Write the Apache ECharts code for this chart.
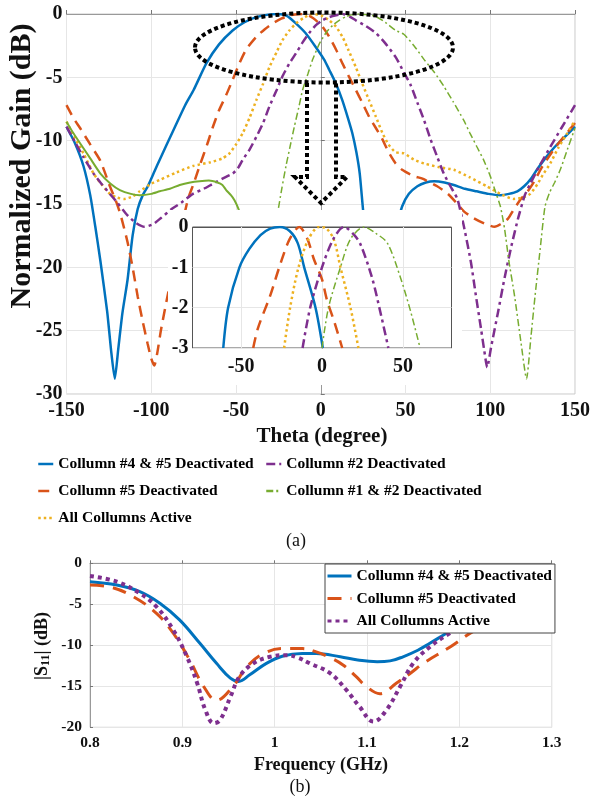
<!DOCTYPE html>
<html>
<head>
<meta charset="utf-8">
<script src="https://cdn.jsdelivr.net/npm/echarts@6/dist/echarts.min.js"></script>
<style>html,body{margin:0;padding:0;background:#fff}#c{width:593px;height:800px}</style>
</head>
<body>
<div id="c"></div>
<script>
// ---------- (a) radiation pattern, main plot: [theta (deg), normalized gain (dB)] ----------
const blueMain = [[-150,-8.9],[-145,-10.2],[-140,-12.0],[-136,-14.3],[-133,-16.8],[-130,-19.5],[-126,-23.5],[-123.5,-26.8],[-121.5,-28.8],[-119.5,-26.5],[-117,-23.6],[-114,-21],[-111,-17.5],[-108,-15.4],[-105,-14.3],[-102,-13.6],[-98,-12.4],[-95,-11.5],[-87,-9.2],[-80,-7.2],[-75,-6.0],[-67.5,-3.9],[-60,-2.4],[-52,-1.3],[-45,-0.65],[-38,-0.25],[-30,-0.03],[-25,0],[-20,-0.15],[-15,-0.7],[-9,-1.5],[-3,-2.6],[2,-3.6],[5,-4.4],[9,-5.5],[12.7,-6.8],[16,-8.2],[18.6,-9.4],[21,-10.9],[23,-12.6],[25,-15.5],[28,-19],[33,-23],[37,-24],[42,-19],[45,-16.8],[48,-15.2],[52,-14.2],[57,-13.6],[62,-13.3],[67,-13.2],[73,-13.3],[78.5,-13.5],[85,-13.8],[92,-14.0],[99,-14.2],[106,-14.3],[111,-14.2],[116,-14.0],[120,-13.6],[124,-13.0],[128,-12.2],[133,-11.3],[138,-10.5],[144,-9.7],[150,-8.9]];
const orangeMain = [[-150,-7.2],[-146,-8.2],[-142,-9.0],[-136,-10.3],[-130,-11.6],[-124.4,-13.6],[-121,-14.7],[-118,-15.9],[-114,-18],[-111,-20],[-108,-22.3],[-105,-24.3],[-102.2,-26],[-100,-27.2],[-98.2,-27.75],[-96.5,-26.8],[-94.2,-24.9],[-90,-22],[-86.2,-19.6],[-82,-16.8],[-78.3,-14.6],[-75,-13.4],[-71.5,-12.0],[-67,-10.3],[-63.6,-8.9],[-60,-7.6],[-55.8,-6.4],[-52,-5.2],[-48,-3.9],[-44,-2.8],[-38,-1.8],[-33,-1.2],[-28.4,-0.74],[-23,-0.35],[-18,-0.1],[-11,0],[-6,-0.2],[-2.8,-0.5],[1,-1.0],[5,-1.8],[9,-2.8],[12.8,-3.9],[16.5,-4.9],[20.7,-6.0],[24.5,-7.0],[28.5,-8.1],[32.5,-9.0],[36.4,-9.9],[40,-10.9],[44.2,-11.8],[48,-12.3],[55,-12.8],[60,-13.0],[68.7,-13.6],[75,-14.2],[80,-14.9],[84.6,-15.6],[90,-16.1],[96.6,-16.55],[102.5,-16.8],[106,-16.6],[110.5,-16.15],[114,-15.4],[118.4,-14.55],[121.6,-14.1],[126,-13.2],[130,-12.2],[133.4,-11.5],[138,-10.6],[144,-9.6],[150,-8.6]];
const yellowMain = [[-150,-8.5],[-145,-9.8],[-140,-11.0],[-134,-12.6],[-129,-13.5],[-124.4,-14.2],[-120,-14.5],[-116,-14.6],[-111,-14.4],[-106.8,-14.0],[-100,-13.4],[-95,-13.1],[-85,-12.5],[-75.4,-12.0],[-65,-11.7],[-58,-11.4],[-53.8,-11.0],[-50,-10.3],[-46,-9.4],[-42,-8.2],[-38,-6.8],[-34,-5.5],[-30.3,-4.2],[-26,-3.0],[-22.5,-2.05],[-18.5,-1.3],[-14.6,-0.74],[-10,-0.3],[-4.8,0],[0,-0.1],[5,-0.5],[9,-1.0],[12.8,-1.8],[16.5,-2.9],[20.7,-4.2],[24.5,-5.5],[28.5,-6.8],[32.5,-8.1],[36.4,-9.4],[40,-10.3],[44,-10.9],[49,-11.0],[55,-11.5],[61,-11.8],[70,-12.1],[78.5,-12.3],[88,-12.9],[98,-13.6],[106,-14.2],[113.8,-14.6],[119,-14.5],[123.6,-14.2],[128,-13.4],[131,-12.7],[135.4,-11.8],[140,-10.6],[145,-9.5],[150,-8.4]];
const purpleMain = [[-150,-8.9],[-145,-10.1],[-140,-11.3],[-134,-12.6],[-130,-13.3],[-124.4,-14.2],[-120,-14.9],[-114,-15.9],[-109,-16.5],[-104,-16.8],[-99,-16.6],[-94.2,-16.1],[-88,-15.4],[-82.3,-14.9],[-75.4,-14.2],[-69,-13.8],[-63.6,-13.4],[-58,-13.0],[-52,-12.6],[-49,-12.2],[-46,-11.5],[-42,-10.7],[-38,-9.7],[-34,-8.6],[-30.3,-7.3],[-26,-6.0],[-22.5,-4.9],[-18.5,-3.9],[-14.6,-3.1],[-10.5,-2.2],[-6.8,-1.5],[-3,-0.9],[1,-0.5],[5,-0.25],[9,-0.1],[13,0],[17,-0.2],[20.7,-0.5],[26,-0.9],[32.5,-1.5],[38,-2.3],[44.2,-3.4],[49,-4.6],[53,-5.6],[57,-7.0],[61,-8.4],[64.8,-9.9],[68.5,-11.2],[72.6,-12.6],[76.5,-13.6],[80.6,-14.6],[84.5,-16.8],[88.6,-19.6],[91.5,-22.2],[94.6,-24.9],[96.5,-26.6],[98.2,-27.9],[100.5,-26.3],[104.5,-23.6],[108.5,-20.8],[112.5,-18.3],[116.5,-16.1],[120.4,-14.3],[123.6,-13.4],[129,-12.0],[135.4,-10.5],[142,-9.0],[150,-7.2]];
const greenSideLobe = [[-150,-8.5],[-146,-9.4],[-142,-10.2],[-136,-11.4],[-130,-12.6],[-124,-13.4],[-118.5,-13.9],[-112,-14.2],[-106.8,-14.3],[-100,-14.2],[-95,-14.0],[-89,-13.8],[-83.2,-13.5],[-77,-13.3],[-71.5,-13.2],[-66,-13.15],[-61,-13.3],[-58,-13.5],[-55.8,-13.9],[-53,-14.3],[-50.9,-14.7],[-48.5,-15.4],[-46,-16.5],[-43,-18]];
const greenMain = [[-30,-20],[-27.5,-17.5],[-25.4,-15.7],[-23,-13.8],[-20.5,-12.0],[-18,-10.4],[-15.6,-8.9],[-13,-7.4],[-10.7,-6.0],[-7.5,-4.7],[-4.8,-3.6],[-1,-2.4],[3,-1.5],[7,-0.9],[10.9,-0.5],[15,-0.2],[19,-0.05],[22.6,0],[27,-0.05],[32.5,-0.2],[38,-0.65],[44.2,-1.3],[49,-1.6],[55,-2.5],[61,-3.6],[67,-4.6],[72.6,-5.7],[78,-6.9],[84.4,-8.4],[88,-9.4],[92.2,-10.5],[96,-11.5],[100,-12.8],[103,-14.0],[106,-15.2],[108.5,-17],[111,-19.5],[114.4,-22.3],[118,-25.8],[121.4,-28.8],[124,-25.5],[126.4,-22.3],[129.5,-18.5],[132.3,-15.2],[135,-14.1],[138,-13.3],[141.3,-12.3],[145.5,-10.7],[150,-9.0]];

// ---------- (a) inset (zoom of main lobes) ----------
const blueInset = [[-61,-3],[-58,-2],[-51,-1],[-45,-0.55],[-38,-0.2],[-32,-0.04],[-26,0],[-20,-0.1],[-15,-0.4],[-11,-1],[-4,-2],[0.5,-3]];
const orangeInset = [[-42.5,-3],[-39.5,-2.5],[-32,-1.7],[-26,-0.95],[-20,-0.3],[-14,0],[-9,-0.3],[-5,-0.8],[0,-1.3],[3,-1.8],[8,-2.4],[12.5,-3]];
const yellowInset = [[-23.4,-3],[-19.7,-2],[-14.5,-1],[-8.3,-0.3],[-2,0],[2,-0.02],[7.2,-0.3],[11.4,-1],[17.6,-2],[22.5,-3]];
const purpleInset = [[-12,-3],[-7.3,-2],[0,-1],[7,-0.3],[13.5,0],[20,-0.2],[24,-0.45],[31,-1.27],[36,-2.1],[41,-3]];
const greenInset = [[0,-3],[4,-2],[11.4,-1],[17.6,-0.3],[26,0],[33,-0.15],[40.4,-0.4],[48.6,-1.27],[54.8,-2.1],[60.6,-3]];
const insetXTicks = [-50, 0, 50];

// ---------- (b) |S11| vs frequency: [GHz, dB] ----------
const blueS11 = [[0.8,-2.24],[0.829,-2.65],[0.854,-3.46],[0.876,-4.9],[0.897,-6.9],[0.919,-9.76],[0.937,-12.2],[0.952,-14.0],[0.961,-14.4],[0.973,-13.6],[0.991,-12.2],[1.009,-11.3],[1.03,-11.0],[1.045,-11.0],[1.071,-11.4],[1.09,-11.8],[1.111,-12.0],[1.125,-11.9],[1.139,-11.4],[1.155,-10.6],[1.168,-9.76],[1.185,-8.6],[1.2,-7.6],[1.215,-6.8]];
const orangeS11 = [[0.8,-2.65],[0.822,-2.9],[0.847,-4.07],[0.872,-6.1],[0.89,-8.5],[0.908,-11.8],[0.923,-15.0],[0.937,-16.7],[0.955,-15.0],[0.97,-12.6],[0.988,-11.0],[1.009,-10.4],[1.03,-10.4],[1.045,-10.8],[1.06,-11.5],[1.074,-12.4],[1.088,-13.8],[1.099,-15.0],[1.114,-15.9],[1.132,-14.6],[1.147,-13.4],[1.161,-12.2],[1.19,-10.2],[1.215,-8.3],[1.23,-7.6],[1.25,-7.2],[1.28,-7.1],[1.3,-7.6]];
const purpleS11 = [[0.8,-1.55],[0.829,-2.24],[0.854,-3.66],[0.872,-5.3],[0.89,-8.1],[0.905,-11.4],[0.916,-14.6],[0.925,-17.9],[0.934,-19.5],[0.941,-19.1],[0.952,-16.3],[0.962,-13.8],[0.977,-12.2],[0.995,-11.4],[1.013,-11.2],[1.025,-11.5],[1.038,-12.2],[1.06,-13.4],[1.078,-15.5],[1.092,-17.5],[1.107,-19.3],[1.121,-17.9],[1.136,-15.0],[1.15,-12.2],[1.168,-10.2],[1.19,-8.5],[1.204,-7.7],[1.215,-7.0]];

const NAMES = ['Collumn #4 & #5 Deactivated','Collumn #5 Deactivated','All Collumns Active','Collumn #2 Deactivated','Collumn #1 & #2 Deactivated'];

const FONT = '"Liberation Serif", "Times New Roman", serif';
const C = {blue:'#0072BD', orange:'#D95319', yellow:'#EDB120', purple:'#7E2F8E', green:'#77AC30'};

function ser(name, data, color, dash, width, xi, z, smooth) {
  return {
    type:'line', name, data, xAxisIndex:xi, yAxisIndex:xi, z: z,
    symbol:'none', smooth: smooth, silent:true,
    lineStyle:{color, width, type: dash, cap:'butt'},
    itemStyle:{color}
  };
}

const chart = echarts.init(document.getElementById('c'), null, {renderer:'canvas'});

const labelStyle = (size) => ({fontFamily:FONT, fontWeight:'bold', fontSize:size, color:'#111'});
const legendText = (lh) => ({fontFamily:FONT, fontWeight:'bold', fontSize:15.5, color:'#000', lineHeight:lh});

const option = {
  animation:false,
  backgroundColor:'#fff',
  grid:[
    {left:66.5, top:14, width:510, height:380, show:true, borderColor:'#c8c8c8', borderWidth:1, backgroundColor:'#fff'},
    {left:192.5, top:227, width:259, height:121, show:true, borderColor:'#555', borderWidth:1, backgroundColor:'rgba(0,0,0,0)', z:6},
    {left:90, top:563.3, width:461.7, height:164, show:true, borderColor:'#c8c8c8', borderWidth:1, backgroundColor:'#fff'}
  ],
  xAxis:[
    {type:'value', gridIndex:0, min:-150, max:150, interval:50,
     axisLine:{lineStyle:{color:'#999'}}, axisTick:{inside:true, length:4, lineStyle:{color:'#777'}},
     splitLine:{show:true, lineStyle:{color:'#e6e6e6'}},
     axisLabel:Object.assign({margin:7}, labelStyle(20))},
    {type:'value', gridIndex:1, min:-80, max:80, z:6,
     axisLine:{lineStyle:{color:'#555'}},
     axisTick:{show:false},
     splitLine:{show:false},
     axisLabel:Object.assign({margin:9, customValues:insetXTicks}, labelStyle(20))},
    {type:'value', gridIndex:2, min:0.8, max:1.3, interval:0.1,
     axisLine:{lineStyle:{color:'#999'}}, axisTick:{inside:true, length:3, lineStyle:{color:'#777'}},
     splitLine:{show:true, lineStyle:{color:'#e6e6e6'}},
     axisLabel:Object.assign({margin:8, formatter:(v)=>String(+v.toFixed(1))}, labelStyle(15.5))}
  ],
  yAxis:[
    {type:'value', gridIndex:0, min:-30, max:0, interval:5,
     axisLine:{show:true, lineStyle:{color:'#999'}}, axisTick:{show:true, inside:true, length:4, lineStyle:{color:'#777'}},
     splitLine:{show:true, lineStyle:{color:'#e6e6e6'}},
     axisLabel:Object.assign({margin:4}, labelStyle(20))},
    {type:'value', gridIndex:1, min:-3, max:0, interval:1, z:6,
     axisLine:{show:true, lineStyle:{color:'#555'}}, axisTick:{show:false},
     splitLine:{show:true, lineStyle:{color:'#e6e6e6'}},
     axisLabel:Object.assign({margin:4}, labelStyle(20))},
    {type:'value', gridIndex:2, min:-20, max:0, interval:5,
     axisLine:{show:true, lineStyle:{color:'#999'}}, axisTick:{show:true, inside:true, length:3, lineStyle:{color:'#777'}},
     splitLine:{show:true, lineStyle:{color:'#e6e6e6'}},
     axisLabel:Object.assign({margin:8}, labelStyle(15.5))}
  ],
  legend:[
    {left:37, top:456, orient:'vertical', padding:0, itemWidth:15, itemHeight:16, itemGap:11,
     data:[NAMES[0], NAMES[1], NAMES[2]], selectedMode:false,
     itemStyle:{opacity:0}, lineStyle:{width:2.5},
     textStyle:legendText(16)},
    {left:265, top:456, orient:'vertical', padding:0, itemWidth:15, itemHeight:16, itemGap:11,
     data:[NAMES[3], NAMES[4]], selectedMode:false,
     itemStyle:{opacity:0}, lineStyle:{width:2.5},
     textStyle:legendText(16)},
    {left:325, top:564, orient:'vertical', padding:[4,3,4,1], itemWidth:24, itemHeight:14, itemGap:6.5,
     backgroundColor:'#fff', borderColor:'#444', borderWidth:1, selectedMode:false,
     data:['S11: '+NAMES[0], 'S11: '+NAMES[1], 'S11: '+NAMES[2]],
     formatter:(n)=>n.replace('S11: ',''),
     itemStyle:{opacity:0}, lineStyle:{width:3},
     textStyle:legendText(14)}
  ],
  series:[
    ser(NAMES[0], blueMain, C.blue, 'solid', 2.5, 0, 2, 0.2),
    ser(NAMES[1], orangeMain, C.orange, [11,7], 2.5, 0, 2, 0.2),
    ser(NAMES[2], yellowMain, C.yellow, [2.5,3], 2.5, 0, 2, 0.2),
    ser(NAMES[3], purpleMain, C.purple, [9,4,3,4], 2.5, 0, 2, 0.2),
    ser('green side lobe', greenSideLobe, C.green, 'solid', 2, 0, 2, 0.2),
    ser(NAMES[4], greenMain, C.green, [7,3,2,3], 1.5, 0, 2, 0.2),
    Object.assign(ser('inset blue', blueInset, C.blue, 'solid', 2.5, 1, 8, 0.3), {
      markLine:{silent:true, symbol:'none', label:{show:false}, z:7,
        lineStyle:{color:'#e6e6e6', width:1, type:'solid'},
        data: insetXTicks.map(v=>({xAxis:v}))}}),
    ser('inset orange', orangeInset, C.orange, [11,7], 2.5, 1, 8, 0.3),
    ser('inset yellow', yellowInset, C.yellow, [2.5,3], 2.5, 1, 8, 0.3),
    ser('inset purple', purpleInset, C.purple, [9,4,3,4], 2.5, 1, 8, 0.3),
    ser('inset green', greenInset, C.green, [7,3,2,3], 1.5, 1, 8, 0.3),
    ser('S11: '+NAMES[0], blueS11, C.blue, 'solid', 3, 2, 2, 0.4),
    ser('S11: '+NAMES[1], orangeS11, C.orange, [14,9], 3, 2, 2, 0.4),
    ser('S11: '+NAMES[2], purpleS11, C.purple, [4,4], 4, 2, 2, 0.4)
  ],
  graphic:[
    {type:'rect', z:5, silent:true, shape:{x:168, y:210, width:294, height:175}, style:{fill:'#fff'}},
    {type:'ellipse', z:20, silent:true, shape:{cx:324, cy:47.5, rx:129, ry:35},
     style:{fill:null, stroke:'#000', lineWidth:4, lineDash:[4,3]}},
    {type:'polyline', z:20, silent:true,
     shape:{points:[[307,83],[307,177],[295,177],[321,203],[347,177],[336,177],[336,83]]},
     style:{fill:null, stroke:'#000', lineWidth:4, lineDash:[4,3]}},
    {type:'text', z:20, silent:true, x:22, y:166, rotation:Math.PI/2,
     style:{text:'Normalized Gain (dB)', font:'bold 30px '+FONT, fill:'#111', align:'center', verticalAlign:'middle'}},
    {type:'text', z:20, silent:true, x:322, y:437,
     style:{text:'Theta (degree)', font:'bold 21px '+FONT, fill:'#111', align:'center', verticalAlign:'middle'}},
    {type:'text', z:20, silent:true, x:296, y:541,
     style:{text:'(a)', font:'18px '+FONT, fill:'#111', align:'center', verticalAlign:'middle'}},
    {type:'text', z:20, silent:true, x:42, y:646, rotation:Math.PI/2,
     style:{text:'|S{s|11}| (dB)', font:'bold 18px '+FONT, fill:'#111', align:'center', verticalAlign:'middle',
       rich:{s:{fontFamily:FONT, fontWeight:'bold', fontSize:12, fill:'#111', padding:[8,0,0,0]}}}},
    {type:'text', z:20, silent:true, x:321, y:765,
     style:{text:'Frequency (GHz)', font:'bold 18px '+FONT, fill:'#111', align:'center', verticalAlign:'middle'}},
    {type:'text', z:20, silent:true, x:300, y:787,
     style:{text:'(b)', font:'18px '+FONT, fill:'#111', align:'center', verticalAlign:'middle'}}
  ]
};
chart.setOption(option);
</script>
</body>
</html>
